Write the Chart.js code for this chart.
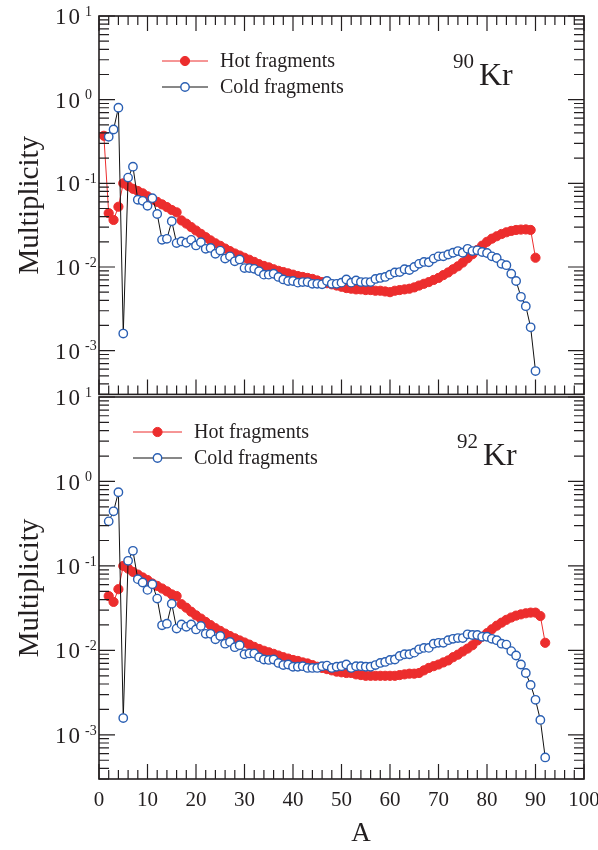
<!DOCTYPE html>
<html lang="en">
<head>
<meta charset="UTF-8">
<title>Fragment multiplicity</title>
<script src="https://cdn.jsdelivr.net/npm/chart.js"></script>
<style>
  body { margin: 0; background: #fff; }
  .wrap { position: relative; width: 598px; height: 850px; }
  canvas { position: absolute; left: 0; }
  #topChart { top: 0; }
  #bottomChart { top: 380px; }
</style>
</head>
<body>
<div class="wrap">
  <canvas id="topChart" width="598" height="400"></canvas>
  <canvas id="bottomChart" width="598" height="470"></canvas>
</div>

<script>
// 90Kr: hot fragments start at A = 1, cold fragments at A = 2
const hot90Start = 1;
const hot90 = [0.37, 0.044, 0.0365, 0.0525, 0.100, 0.093, 0.086, 0.081, 0.076, 0.070,
  0.064, 0.060, 0.056, 0.052, 0.048, 0.045, 0.036, 0.033, 0.030, 0.0273,
  0.0249, 0.0227, 0.0208, 0.0192, 0.0179, 0.0166, 0.0155, 0.0145, 0.0137, 0.0129,
  0.0122, 0.0115, 0.0108, 0.0103, 0.0099, 0.0094, 0.0090, 0.0087, 0.0084, 0.0081,
  0.0078, 0.0076, 0.0074, 0.0072, 0.0069, 0.0066, 0.0064, 0.0062, 0.0060, 0.0058,
  0.0056, 0.0055, 0.0054, 0.0054, 0.0053, 0.0053, 0.0052, 0.0052, 0.0051, 0.0050,
  0.0052, 0.0053, 0.0054, 0.0055, 0.0057, 0.0060, 0.0063, 0.0066, 0.0070, 0.0074,
  0.0080, 0.0086, 0.0094, 0.0102, 0.0113, 0.0127, 0.0142, 0.0160, 0.0180, 0.0200,
  0.0218, 0.0233, 0.0248, 0.0260, 0.0270, 0.0277, 0.0280, 0.0281, 0.0277, 0.0129];
const cold90Start = 2;
const cold90 = [0.36, 0.44, 0.80, 0.0016, 0.117, 0.158, 0.0636, 0.0618, 0.0539, 0.0665,
  0.043, 0.0211, 0.0217, 0.0352, 0.0193, 0.0202, 0.0195, 0.0211, 0.0181, 0.0198,
  0.0165, 0.0169, 0.0144, 0.0157, 0.0126, 0.0134, 0.0117, 0.0123, 0.0097, 0.0097,
  0.0095, 0.0089, 0.0081, 0.0081, 0.0083, 0.0076, 0.0071, 0.0068, 0.0068, 0.0065,
  0.0066, 0.0066, 0.0063, 0.0063, 0.0062, 0.0068, 0.0063, 0.0063, 0.0065, 0.0071,
  0.0065, 0.0069, 0.0066, 0.0066, 0.0066, 0.0072, 0.0074, 0.0076, 0.0081, 0.0086,
  0.0087, 0.0094, 0.0092, 0.0100, 0.0109, 0.0115, 0.0114, 0.0126, 0.0134, 0.0134,
  0.0141, 0.0148, 0.0155, 0.0148, 0.0165, 0.0155, 0.0158, 0.0151, 0.0147, 0.0134,
  0.0128, 0.0109, 0.0105, 0.0083, 0.0068, 0.0044, 0.0034, 0.0019, 0.00057];

// 92Kr: both series start at A = 2
const hot92Start = 2;
const hot92 = [0.044, 0.0375, 0.053, 0.100, 0.093, 0.085, 0.079, 0.073, 0.068,
  0.062, 0.058, 0.054, 0.050, 0.046, 0.044, 0.0352, 0.032, 0.0287, 0.026,
  0.0238, 0.0217, 0.0199, 0.0183, 0.0170, 0.0158, 0.0148, 0.0139, 0.0131, 0.0124,
  0.0117, 0.0110, 0.0104, 0.0099, 0.0095, 0.0091, 0.0087, 0.0083, 0.0080, 0.0077,
  0.0075, 0.0072, 0.0070, 0.0067, 0.0064, 0.0062, 0.0060, 0.0058, 0.0056, 0.0055,
  0.0054, 0.0054, 0.0052, 0.0051, 0.0050, 0.0050, 0.0050, 0.0050, 0.0050, 0.0050,
  0.0050, 0.0051, 0.0052, 0.0053, 0.0053, 0.0054, 0.0058, 0.0062, 0.0065, 0.0068,
  0.0072, 0.0076, 0.0083, 0.0089, 0.0097, 0.0105, 0.0115, 0.0131, 0.0145, 0.0160,
  0.0178, 0.0196, 0.0213, 0.0230, 0.0245, 0.0258, 0.0267, 0.0275, 0.0280, 0.0280,
  0.0255, 0.0123];
const cold92Start = 2;
const cold92 = [0.337, 0.443, 0.745, 0.00158, 0.115, 0.151, 0.0697, 0.0636, 0.052, 0.0608,
  0.041, 0.0198, 0.0207, 0.0357, 0.0181, 0.0203, 0.0190, 0.0203, 0.0177, 0.0195,
  0.0157, 0.0157, 0.0135, 0.0148, 0.0120, 0.0126, 0.0109, 0.0115, 0.0090, 0.0092,
  0.0092, 0.0083, 0.0078, 0.0077, 0.0078, 0.0071, 0.0067, 0.0068, 0.0064, 0.0064,
  0.0065, 0.0062, 0.0062, 0.0062, 0.0065, 0.0066, 0.0062, 0.0064, 0.0065, 0.0068,
  0.0062, 0.0065, 0.0065, 0.0064, 0.0064, 0.0067, 0.0071, 0.0073, 0.0077, 0.0078,
  0.0086, 0.0090, 0.0090, 0.0094, 0.0103, 0.0107, 0.0107, 0.0120, 0.0123, 0.0123,
  0.0132, 0.0137, 0.0140, 0.0140, 0.0155, 0.0152, 0.0152, 0.0145, 0.0145, 0.0137,
  0.0132, 0.0120, 0.0117, 0.0098, 0.0087, 0.0068, 0.0054, 0.0039, 0.0026, 0.0015,
  0.00054];

const xTicks = [0, 10, 20, 30, 40, 50, 60, 70, 80, 90, 100];
const yExponents = [1, 0, -1, -2, -3];

const ink = '#231f20';
const serif = '"Liberation Serif", "Times New Roman", serif';
const hotColor = '#ec2d2d';
const coldColor = '#2a5fb3';

function toPoints(start, values) {
  return values.map((v, i) => ({ x: start + i, y: v }));
}

// frame, inward ticks, tick labels, legend and nucleus label
const decorPlugin = {
  id: 'decor',
  afterDraw(chart) {
    const o = chart.options.plugins.decor;
    const { ctx, chartArea: a } = chart;
    const x = chart.scales.x, y = chart.scales.y;
    ctx.save();
    ctx.strokeStyle = ink;
    ctx.fillStyle = ink;

    ctx.lineWidth = 1.2;
    for (let v = 0; v <= 100; v += 2) {
      const px = x.getPixelForValue(v);
      const len = v % 10 === 0 ? 15 : 9;
      ctx.beginPath();
      ctx.moveTo(px, a.bottom); ctx.lineTo(px, a.bottom - len);
      if (o.topTicks) { ctx.moveTo(px, a.top); ctx.lineTo(px, a.top + len); }
      ctx.stroke();
    }
    for (let e = -4; e <= 1; e++) {
      for (let m = 1; m <= 9; m++) {
        const v = m * Math.pow(10, e);
        if (v < y.min * 0.999 || v > y.max * 1.001) continue;
        const py = y.getPixelForValue(v);
        const len = m === 1 ? 16 : 10;
        ctx.beginPath();
        ctx.moveTo(a.left, py); ctx.lineTo(a.left + len, py);
        ctx.moveTo(a.right, py); ctx.lineTo(a.right - len, py);
        ctx.stroke();
      }
    }
    ctx.lineWidth = 1.6;
    ctx.strokeRect(a.left, a.top, a.right - a.left, a.bottom - a.top);

    // y tick labels 10^n
    ctx.textBaseline = 'middle';
    ctx.textAlign = 'left';
    yExponents.forEach(e => {
      const py = y.getPixelForValue(Math.pow(10, e));
      ctx.font = '23px ' + serif;
      ctx.letterSpacing = '2px';
      ctx.fillText('10', 55, py + 2);
      ctx.letterSpacing = '0px';
      ctx.font = '14px ' + serif;
      ctx.fillText(String(e), 85, py - 4);
    });

    // axis title
    ctx.save();
    ctx.translate(30, (a.top + a.bottom) / 2);
    ctx.rotate(-Math.PI / 2);
    ctx.textAlign = 'center';
    ctx.font = '29px ' + serif;
    ctx.fillText('Multiplicity', 0, 0);
    ctx.restore();

    if (o.xLabels) {
      ctx.textAlign = 'center';
      ctx.font = '21px ' + serif;
      xTicks.forEach(v => ctx.fillText(String(v), x.getPixelForValue(v), a.bottom + 21));
      ctx.font = '27px ' + serif;
      ctx.fillText('A', x.getPixelForValue(54), a.bottom + 55);
    }

    // legend
    const lg = o.legend;
    chart.data.datasets.forEach((ds, i) => {
      const ly = lg.y + i * 26;
      ctx.strokeStyle = ds.borderColor;
      ctx.lineWidth = 1;
      ctx.beginPath();
      ctx.moveTo(lg.x1, ly); ctx.lineTo(lg.x2, ly);
      ctx.stroke();
      ctx.beginPath();
      ctx.arc((lg.x1 + lg.x2) / 2, ly, ds.pointRadius, 0, Math.PI * 2);
      ctx.fillStyle = ds.pointBackgroundColor;
      ctx.fill();
      ctx.lineWidth = ds.pointBorderWidth;
      ctx.strokeStyle = ds.pointBorderColor;
      ctx.stroke();
      ctx.fillStyle = ink;
      ctx.textAlign = 'left';
      ctx.font = '20px ' + serif;
      ctx.fillText(ds.label, lg.x1 + lg.x2 - lg.x1 + 12, ly + 1);
    });

    // nucleus label
    const k = o.nucleus;
    ctx.textBaseline = 'alphabetic';
    ctx.font = '21px ' + serif;
    ctx.fillText(k.mass, k.x, k.y - 17);
    ctx.font = '32px ' + serif;
    ctx.fillText('Kr', k.x + 26, k.y);
    ctx.restore();
  }
};

function makeChart(id, hot, cold, decor, padding) {
  return new Chart(document.getElementById(id), {
    type: 'line',
    data: {
      datasets: [
        {
          label: 'Hot fragments',
          data: hot,
          borderColor: hotColor,
          borderWidth: 1,
          pointRadius: 4.6,
          pointBackgroundColor: hotColor,
          pointBorderColor: hotColor,
          pointBorderWidth: 1,
          order: 2
        },
        {
          label: 'Cold fragments',
          data: cold,
          borderColor: '#111',
          borderWidth: 1,
          pointRadius: 4.2,
          pointBackgroundColor: '#fff',
          pointBorderColor: coldColor,
          pointBorderWidth: 1.4,
          order: 1
        }
      ]
    },
    options: {
      responsive: false,
      animation: false,
      devicePixelRatio: 1,
      layout: { padding: padding },
      scales: {
        x: { type: 'linear', min: 0, max: 100, display: false },
        y: { type: 'logarithmic', min: 3e-4, max: 10, display: false }
      },
      plugins: {
        legend: { display: false },
        tooltip: { enabled: false },
        decor: decor
      }
    },
    plugins: [decorPlugin]
  });
}

makeChart('topChart', toPoints(hot90Start, hot90), toPoints(cold90Start, cold90), {
  topTicks: true,
  xLabels: false,
  legend: { x1: 162, x2: 208, y: 61 },
  nucleus: { mass: '90', x: 453, y: 85 }
}, { top: 16, left: 99, right: 14, bottom: 3 });

makeChart('bottomChart', toPoints(hot92Start, hot92), toPoints(cold92Start, cold92), {
  topTicks: false,
  xLabels: true,
  legend: { x1: 133, x2: 182, y: 52 },
  nucleus: { mass: '92', x: 457, y: 85 }
}, { top: 17, left: 99, right: 14, bottom: 71 });
</script>
</body>
</html>
